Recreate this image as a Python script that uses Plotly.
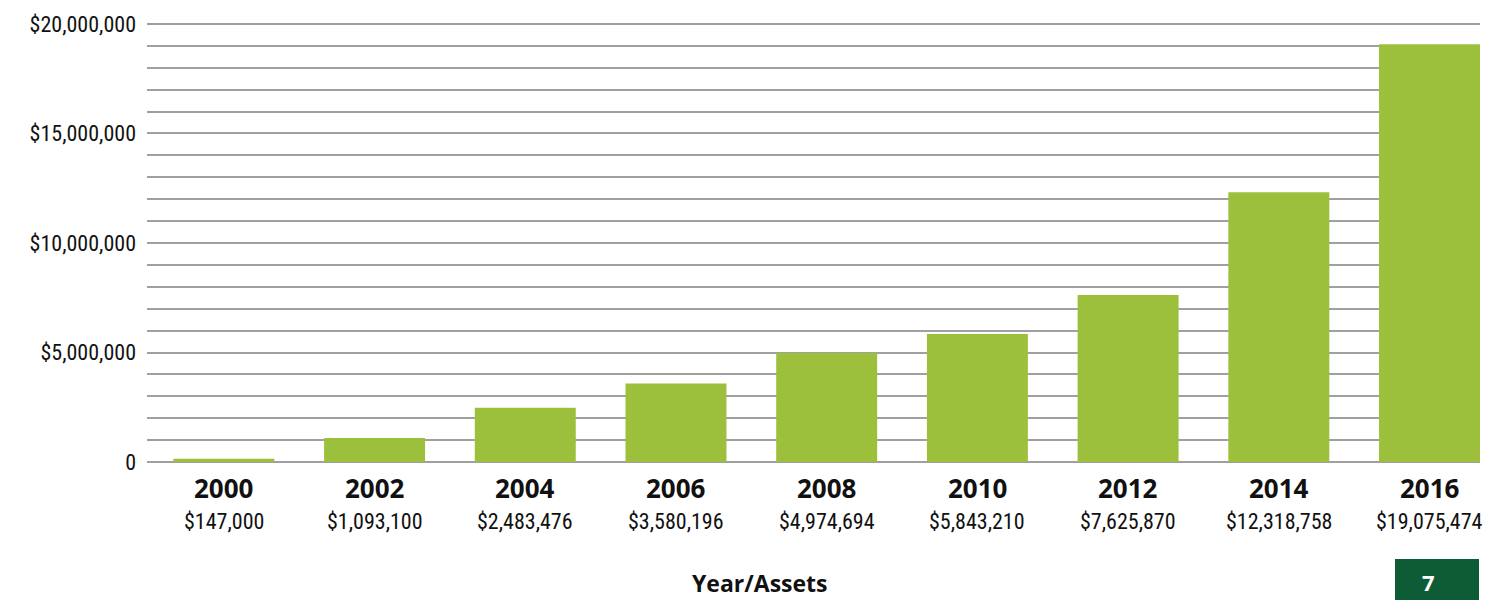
import plotly.graph_objects as go

years = ["2000", "2002", "2004", "2006", "2008", "2010", "2012", "2014", "2016"]
assets = [147000, 1093100, 2483476, 3580196, 4974694, 5843210, 7625870, 12318758, 19075474]
y_ticks = [0, 5000000, 10000000, 15000000, 20000000]
y_tick_labels = ["0", "$5,000,000", "$10,000,000", "$15,000,000", "$20,000,000"]

# page body has an 8px default margin; figure is sized to fit inside the window
W, H = 1501, 592
L, R, T, B = 139, 29, 14, 136
PW, PH = W - L - R, H - T - B

def py(page_y):  # page-pixel y -> paper coordinate
    return (H - B - (page_y - 8)) / PH

def px(page_x):
    return ((page_x - 8) - L) / PW

COND = "Roboto Condensed, Liberation Sans Narrow, Lato, sans-serif"
BOLD = "Open Sans, Lato, sans-serif"

xpos = list(range(len(years)))

fig = go.Figure()
fig.add_trace(go.Bar(
    x=xpos, y=assets, width=0.67,
    marker=dict(color="#9dc03c", line=dict(width=0)),
    hoverinfo="skip",
))

annotations = []
for xi, yr, v in zip(xpos, years, assets):
    annotations.append(dict(
        text=f"<b>{yr}</b>", x=xi, xref="x", y=py(488), yref="paper",
        yanchor="middle", showarrow=False,
        font=dict(family=BOLD, size=26, color="#111111"),
    ))
    annotations.append(dict(
        text=f"${v:,}", x=xi, xref="x", y=py(521), yref="paper",
        yanchor="middle", showarrow=False,
        font=dict(family=COND, size=22, color="#111111"),
    ))
annotations.append(dict(
    text="<b>Year/Assets</b>", x=px(760), xref="paper", y=py(583), yref="paper",
    yanchor="middle", showarrow=False,
    font=dict(family=BOLD, size=23, color="#111111"),
))

fig.update_layout(
    width=W, height=H,
    margin=dict(l=L, r=R, t=T, b=B, autoexpand=False),
    paper_bgcolor="white", plot_bgcolor="white",
    showlegend=False,
    xaxis=dict(
        range=[-0.51, 8.335], tickvals=xpos, showticklabels=False,
        showgrid=False, zeroline=False, showline=False, ticks="",
        automargin=False,
    ),
    yaxis=dict(
        range=[-90000, 20090000], tickvals=y_ticks, ticktext=y_tick_labels,
        showgrid=True, gridcolor="#a0a0a0", gridwidth=2,
        minor=dict(dtick=1000000, showgrid=True, gridcolor="#a0a0a0", gridwidth=2),
        zeroline=False, showline=False, ticks="",
        tickfont=dict(family=COND, size=22, color="#111111"),
        ticklabelstandoff=10, automargin=False,
    ),
    annotations=annotations,
)

# page number box
fig.add_shape(type="rect", xref="paper", yref="paper",
              x0=px(1395), x1=px(1479), y0=py(608), y1=py(559),
              fillcolor="#0d5c36", line=dict(width=0), layer="above")
fig.add_annotation(text="<b>7</b>", xref="paper", yref="paper",
                   x=px(1437), y=py(582), yanchor="middle", showarrow=False,
                   font=dict(family=BOLD, size=22, color="white"))

fig.write_html("out.html")
